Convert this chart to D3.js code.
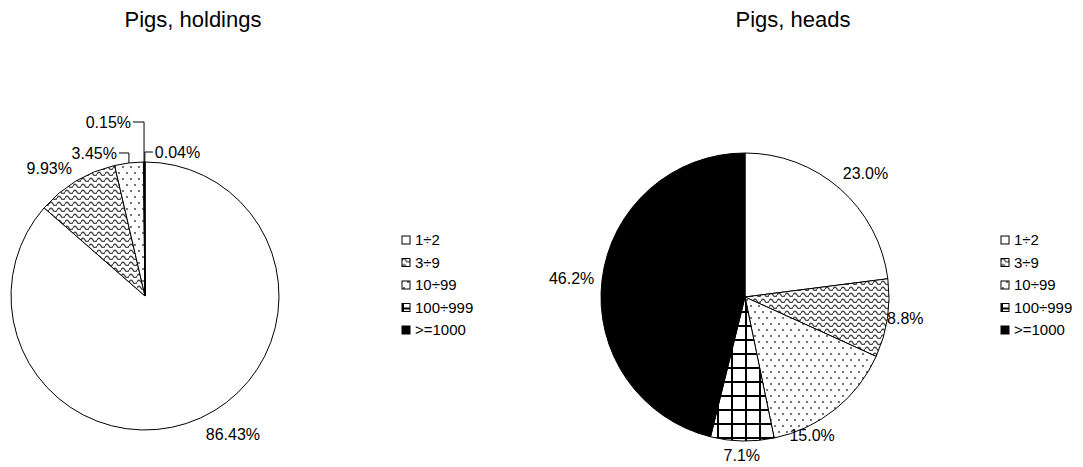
<!DOCTYPE html>
<html>
<head>
<meta charset="utf-8">
<script src="https://cdn.jsdelivr.net/npm/d3@7"></script>
<style>
  body { margin: 0; background: #fff; }
  text { font-family: Arial, "Liberation Sans", sans-serif; fill: #000; }
</style>
</head>
<body>
<svg id="chart" width="1083" height="467"></svg>
<script>
// data
const categories = ["1÷2", "3÷9", "10÷99", "100÷999", ">=1000"];
const holdings = [86.43, 9.93, 3.45, 0.15, 0.04];
const heads = [23.0, 8.8, 15.0, 7.1, 46.2];
const holdingsLabels = ["86.43%", "9.93%", "3.45%", "0.15%", "0.04%"];
const headsLabels = ["23.0%", "8.8%", "15.0%", "7.1%", "46.2%"];
const titles = ["Pigs, holdings", "Pigs, heads"];

const svg = d3.select("#chart");
svg.append("rect").attr("width", 1083).attr("height", 467).attr("fill", "#fff");

// fill patterns, one per category
const defs = svg.append("defs");
const wave = defs.append("pattern").attr("id", "wave")
    .attr("patternUnits", "userSpaceOnUse").attr("width", 8).attr("height", 6);
wave.append("rect").attr("width", 8).attr("height", 6).attr("fill", "#fff");
wave.append("path").attr("d", "M0,4 Q2,0.5 4,4 T8,4")
    .attr("fill", "none").attr("stroke", "#444").attr("stroke-width", 1.4);

const dots = defs.append("pattern").attr("id", "dots")
    .attr("patternUnits", "userSpaceOnUse").attr("width", 8).attr("height", 12);
dots.append("rect").attr("width", 8).attr("height", 12).attr("fill", "#fff");
dots.append("circle").attr("cx", 2).attr("cy", 3).attr("r", 0.9).attr("fill", "#333");
dots.append("circle").attr("cx", 6).attr("cy", 9).attr("r", 0.9).attr("fill", "#333");

const grid = defs.append("pattern").attr("id", "grid")
    .attr("patternUnits", "userSpaceOnUse").attr("width", 14).attr("height", 14);
grid.append("rect").attr("width", 14).attr("height", 14).attr("fill", "#fff");
grid.append("path").attr("d", "M0,1H14M1,0V14")
    .attr("stroke", "#000").attr("stroke-width", 2);

const color = d3.scaleOrdinal().domain(categories)
    .range(["#fff", "url(#wave)", "url(#dots)", "url(#grid)", "#000"]);

function drawPie(opt) {
    const g = svg.append("g");

    g.append("text").attr("x", opt.titleX).attr("y", 27)
        .attr("text-anchor", "middle").style("font-size", "22px").text(opt.title);

    const pie = d3.pie().sort(null).value(function(d) { return d.v; });
    const arcs = pie(categories.map(function(c, i) { return {c: c, v: opt.values[i], lab: opt.labels[i], i: i}; }));
    const arc = d3.arc().innerRadius(0).outerRadius(opt.r);

    const pg = g.append("g").attr("transform", "translate(" + opt.cx + "," + opt.cy + ")");
    pg.selectAll("path").data(arcs).enter().append("path")
        .attr("d", arc)
        .attr("fill", function(d) { return color(d.data.c); })
        .attr("stroke", "#000").attr("stroke-width", 1);

    // data labels
    arcs.forEach(function(d) {
        const a = (d.startAngle + d.endAngle) / 2;
        const lead = opt.leaders[d.data.i];
        if (lead) {
            // leader line: up from the rim, then across to the label
            const px = Math.sin(a) * opt.r, py = -Math.cos(a) * opt.r;
            pg.append("path")
                .attr("d", "M" + px + "," + py + "V" + (py + lead[1]) + "H" + (px + lead[0]))
                .attr("fill", "none").attr("stroke", "#000").attr("stroke-width", 1);
            pg.append("text")
                .attr("x", px + lead[0] + (lead[0] < 0 ? -2 : 2))
                .attr("y", py + lead[1]).attr("dy", "0.35em")
                .attr("text-anchor", lead[0] < 0 ? "end" : "start")
                .style("font-size", "16px").text(d.data.lab);
            return;
        }
        const t = pg.append("text").style("font-size", "16px")
            .attr("text-anchor", "middle").attr("dy", "0.35em").text(d.data.lab);
        const w = t.node().getComputedTextLength();
        const rr = opt.r + 8, nd = opt.nudge[d.data.i] || [0, 0];
        t.attr("x", Math.sin(a) * rr + Math.sin(a) * w / 2 + nd[0])
         .attr("y", -Math.cos(a) * rr - Math.cos(a) * 6 + nd[1]);
    });

    // legend
    const lg = g.append("g");
    const row = lg.selectAll("g").data(categories).enter().append("g")
        .attr("transform", function(d, i) { return "translate(" + opt.legendX + "," + (240 + i * 22.5) + ")"; });
    row.append("rect").attr("x", 0).attr("y", -4).attr("width", 8).attr("height", 8)
        .attr("fill", function(d) { return color(d); })
        .attr("stroke", "#000").attr("stroke-width", 1);
    row.append("text").attr("x", 13).attr("dy", "0.35em")
        .style("font-size", "15px").text(function(d) { return d; });
}

drawPie({
    title: titles[0], titleX: 193, cx: 145, cy: 296, r: 134,
    values: holdings, labels: holdingsLabels, legendX: 402,
    nudge: {0: [18, 4], 1: [-11, -1]},
    leaders: {2: [-10, -10], 3: [-11, -40], 4: [8, -10]}
});
drawPie({
    title: titles[1], titleX: 793, cx: 745, cy: 297, r: 144,
    values: heads, labels: headsLabels, legendX: 1001,
    nudge: {0: [5, -5], 1: [-8, -2], 2: [-42, 15]},
    leaders: {}
});
</script>
</body>
</html>
